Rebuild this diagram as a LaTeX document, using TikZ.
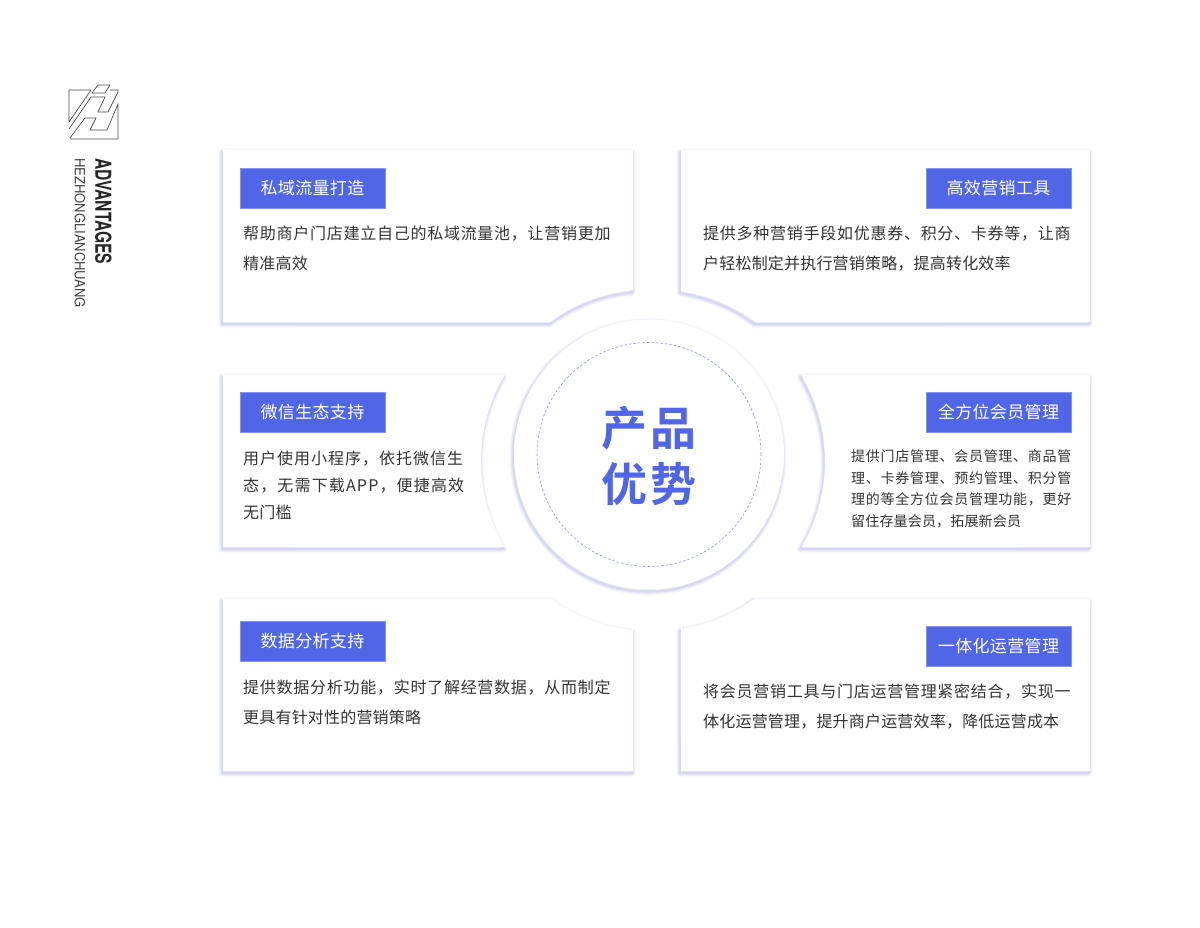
\documentclass[tikz,border=0pt]{standalone}
\usepackage{fontspec}
\newfontfamily\cjkplain[LetterSpace=1.2]{Noto Sans CJK SC}
\newfontfamily\cjkbody[LetterSpace=4.6]{Noto Sans CJK SC}
\newfontfamily\cjkwideA[LetterSpace=6.25]{Noto Sans CJK SC}
\newfontfamily\cjkwideB[LetterSpace=7.2]{Noto Sans CJK SC}
\newfontfamily\cjksmall[LetterSpace=5.2]{Noto Sans CJK SC}
\newfontfamily\cjkhead[LetterSpace=2]{Noto Sans CJK SC}
\newfontfamily\cjkbig[LetterSpace=8]{Noto Sans CJK SC Bold}
\newfontfamily\logobold[FakeStretch=0.71]{TeX Gyre Heros Bold}
\newfontfamily\logoreg[FakeStretch=0.93]{TeX Gyre Heros}
\definecolor{brand}{HTML}{5066E6}
\definecolor{brandedge}{HTML}{8493F0}
\definecolor{ink}{HTML}{333333}
\definecolor{halo}{HTML}{5F68C8}
\newcommand{\softshape}[1]{%
  \foreach \w in {7,5,3.5,2.5,1.5}{\draw[haloline,line width=\w pt] #1;}%
  \fill[white] #1;}
\begin{document}
\begin{tikzpicture}[x=1pt,y=1pt,
  haloline/.style={draw=halo,opacity=0.055,line join=round,shift={(-1,-2.1)}},
  headbox/.style={fill=brand,draw=brandedge,line width=0.6pt,minimum width=145pt,minimum height=40pt,inner sep=0pt,text=white,font=\cjkhead\fontsize{17}{20}\selectfont},
  bodytext/.style={anchor=west,align=left,inner sep=0pt,text=ink,font=\fontsize{16}{#1}\selectfont},
  smalltext/.style={anchor=west,align=left,inner sep=0pt,text=ink,font=\fontsize{14}{21.7}\selectfont},
  logoline/.style={draw=black!70,line width=0.7pt,line join=miter}]
\useasboundingbox (0,0) rectangle (1200,928);
\fill[white] (0,0) rectangle (1200,928);

% cards
\softshape{(223,778) -- (633,778) -- (633,637.7) arc[start angle=95.55,end angle=126.54,radius=165.5pt] -- (223,606) -- cycle}
\softshape{(1090,778) -- (681,778) -- (681,636.75) arc[start angle=81.66,end angle=53.46,radius=165.5pt] -- (1090,606) -- cycle}
\softshape{(223,553) -- (504.7,553) arc[start angle=149.2,end angle=210.8,radius=168pt] -- (223,381) -- cycle}
\softshape{(1090,553) -- (801.3,553) arc[start angle=30.8,end angle=-30.8,radius=168pt] -- (1090,381) -- cycle}
\softshape{(223,329) -- (551.9,329) arc[start angle=234.06,end angle=264.45,radius=165.5pt] -- (633,157) -- (223,157) -- cycle}
\softshape{(1090,329) -- (754.1,329) arc[start angle=-54.06,end angle=-81.66,radius=165.5pt] -- (681,157) -- (1090,157) -- cycle}

% centre
\softshape{(649,473.5) circle[radius=135pt]}
\draw[brandedge,line width=0.6pt,dash pattern=on 2.5pt off 2pt] (649,473.5) circle[radius=112pt];
\node[name=centre,align=center,inner sep=0pt,text=brand,font=\cjkbig\fontsize{46}{56}\selectfont] at (649,472) {产品\\优势};

% headers
\node[headbox,name=h1] at (312.5,740) {\raisebox{-2pt}{私域流量打造}};
\node[headbox,name=h2] at (998.5,740) {\raisebox{-2pt}{高效营销工具}};
\node[headbox,name=h3] at (312.5,516) {\raisebox{-2pt}{微信生态支持}};
\node[headbox,name=h4] at (998.5,516) {\raisebox{-2pt}{全方位会员管理}};
\node[headbox,name=h5] at (312.5,287) {\raisebox{-2pt}{数据分析支持}};
\node[headbox,name=h6] at (998.5,282) {\raisebox{-2pt}{一体化运营管理}};

% body text
\node[bodytext=30,name=t1] at (243,679.5) {\cjkbody 帮助商户门店建立自己的私域流量池，让营销更加\\\cjkplain 精准高效};
\node[bodytext=30,name=t2] at (703,679.5) {\cjkbody 提供多种营销手段如优惠券、积分、卡券等，让商\\\cjkplain 户轻松制定并执行营销策略，提高转化效率};
\node[bodytext=27,name=t3] at (243,443) {\cjkwideA 用户使用小程序，依托微信生\\\cjkwideB 态，无需下载APP，便捷高效\\\cjkplain 无门槛};
\node[smalltext,name=t4] at (851,439) {\cjksmall 提供门店管理、会员管理、商品管\\\cjksmall 理、卡券管理、预约管理、积分管\\\cjksmall 理的等全方位会员管理功能，更好\\\cjkplain 留住存量会员，拓展新会员};
\node[bodytext=30,name=t5] at (243,226) {\cjkbody 提供数据分析功能，实时了解经营数据，从而制定\\\cjkplain 更具有针对性的营销策略};
\node[bodytext=30,name=t6] at (703,221) {\cjkbody 将会员营销工具与门店运营管理紧密结合，实现一\\\cjkplain 体化运营管理，提升商户运营效率，降低运营成本};

% logo
\draw[logoline] (69,838) -- (91,838) -- (69,806) -- cycle;
\draw[logoline] (98,843) -- (110,843) -- (105,835) -- (92,835) -- cycle;
\draw[logoline] (69,799) -- (91,831) -- (105,831) -- (98,816) -- (108,816) -- (118,836) -- (118,838) -- (110,838);
\draw[logoline] (70,790) -- (85,810) -- (96,810) -- (90,798) -- (107,798) -- (118,824) -- (118,789) -- (70,789);

\node[name=brandA,rotate=-90,anchor=west,inner sep=0pt,text=black!85,font=\logobold\fontsize{22}{24}\selectfont] at (103.5,770) {ADVANTAGES};
\node[name=brandB,rotate=-90,anchor=west,inner sep=0pt,text=black!75,font=\logoreg\fontsize{14}{16}\selectfont] at (80,770) {HEZHONGLIANCHUANG};
\end{tikzpicture}
\end{document}
